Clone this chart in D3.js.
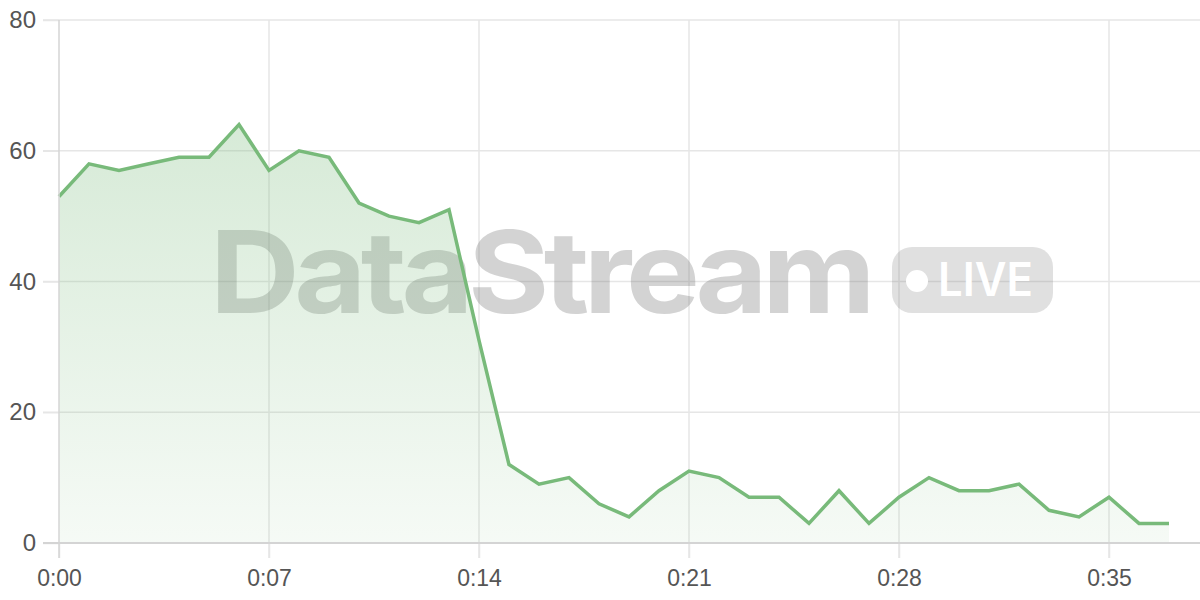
<!DOCTYPE html>
<html>
<head>
<meta charset="utf-8">
<script src="https://cdn.jsdelivr.net/npm/d3@7/dist/d3.min.js"></script>
<style>
  html, body { margin: 0; padding: 0; background: #fff; }
  svg { display: block; font-family: "Inter", "Noto Sans", sans-serif; }
</style>
</head>
<body>
<div id="chart"></div>
<script>
"use strict";

// seconds since start
const SECONDS = d3.range(0, 38);
const VALUES = [53, 58, 57, 58, 59, 59, 64, 57, 60, 59, 52, 50, 49, 51, 31, 12, 9, 10, 6, 4,
                8, 11, 10, 7, 7, 3, 8, 3, 7, 10, 8, 8, 9, 5, 4, 7, 3, 3];
const X_TICKS = [0, 7, 14, 21, 28, 35];
const Y_TICKS = [0, 20, 40, 60, 80];
const WATERMARK = "DataStream";
const BADGE_TEXT = "LIVE";

const WIDTH = 1200;
const HEIGHT = 600;
const MARGIN = {top: 20, right: 0, bottom: 57, left: 59};
const LINE_COLOR = "#78ba7a";

function fmtTime(s) {
    const m = Math.floor(s / 60);
    const sec = s % 60;
    return m + ":" + (sec < 10 ? "0" + sec : sec);
}

const svg = d3.select("#chart").append("svg")
    .attr("width", WIDTH)
    .attr("height", HEIGHT);

const x = d3.scaleLinear()
    .domain([0, 38])
    .range([MARGIN.left, WIDTH - MARGIN.right - 1]);

const y = d3.scaleLinear()
    .domain([0, 80])
    .range([HEIGHT - MARGIN.bottom, MARGIN.top]);

const defs = svg.append("defs");
const grad = defs.append("linearGradient")
    .attr("id", "area-fill")
    .attr("x1", 0).attr("y1", 0)
    .attr("x2", 0).attr("y2", 1);
grad.append("stop").attr("offset", "0%").attr("stop-color", LINE_COLOR).attr("stop-opacity", 0.3);
grad.append("stop").attr("offset", "100%").attr("stop-color", LINE_COLOR).attr("stop-opacity", 0.07);

// grid
svg.append("g")
    .selectAll("line")
    .data(Y_TICKS.filter(function (d) { return d > 0; }))
    .enter()
    .append("line")
    .attr("x1", MARGIN.left - 16)
    .attr("x2", WIDTH)
    .attr("y1", function (d) { return y(d); })
    .attr("y2", function (d) { return y(d); })
    .attr("stroke", "#e6e6e6")
    .attr("stroke-width", 1.5);

svg.append("g")
    .selectAll("line")
    .data(X_TICKS.filter(function (d) { return d > 0; }))
    .enter()
    .append("line")
    .attr("x1", function (d) { return x(d); })
    .attr("x2", function (d) { return x(d); })
    .attr("y1", MARGIN.top)
    .attr("y2", HEIGHT - MARGIN.bottom + 15)
    .attr("stroke", "#e6e6e6")
    .attr("stroke-width", 1.5);

// watermark
const wm = svg.append("g").attr("class", "watermark");
wm.append("text")
    .attr("x", 210)
    .attr("y", 313)
    .attr("textLength", 660)
    .attr("lengthAdjust", "spacingAndGlyphs")
    .style("font-family", "Inter, 'Open Sans', sans-serif")
    .style("font-weight", 700)
    .style("font-size", "114px")
    .style("letter-spacing", "-5px")
    .attr("fill", "rgba(110,110,110,0.3)")
    .text(WATERMARK);
wm.append("rect")
    .attr("x", 892)
    .attr("y", 247)
    .attr("width", 161)
    .attr("height", 66)
    .attr("rx", 20)
    .attr("fill", "rgba(110,110,110,0.21)");
wm.append("circle")
    .attr("cx", 917)
    .attr("cy", 281)
    .attr("r", 11)
    .attr("fill", "#fff");
wm.append("text")
    .attr("x", 938)
    .attr("y", 296)
    .attr("textLength", 95)
    .attr("lengthAdjust", "spacingAndGlyphs")
    .style("font-family", "Inter, 'Open Sans', sans-serif")
    .style("font-weight", 600)
    .style("font-size", "46px")
    .attr("fill", "#fff")
    .text(BADGE_TEXT);

// area + line
const points = SECONDS.map(function (s, i) { return {t: s, v: VALUES[i]}; });

svg.append("path")
    .datum(points)
    .attr("fill", "url(#area-fill)")
    .attr("d", d3.area()
        .x(function (d) { return x(d.t); })
        .y0(y(0))
        .y1(function (d) { return y(d.v); }));

svg.append("path")
    .datum(points)
    .attr("fill", "none")
    .attr("stroke", LINE_COLOR)
    .attr("stroke-width", 3.5)
    .attr("stroke-linejoin", "miter")
    .attr("d", d3.line()
        .x(function (d) { return x(d.t); })
        .y(function (d) { return y(d.v); }));

// axes
const xAxis = svg.append("g")
    .attr("transform", "translate(0," + y(0) + ")")
    .call(d3.axisBottom(x).tickValues(X_TICKS).tickFormat(fmtTime).tickSize(15).tickPadding(12));
xAxis.select(".domain").remove();
xAxis.selectAll(".tick line").attr("stroke", "#e6e6e6").attr("stroke-width", 1.5);
xAxis.selectAll("text").attr("fill", "#555").style("font-size", "23px");

const yAxis = svg.append("g")
    .attr("transform", "translate(" + MARGIN.left + ",0)")
    .call(d3.axisLeft(y).tickValues(Y_TICKS).tickSize(16).tickPadding(7));
yAxis.select(".domain").remove();
yAxis.selectAll(".tick line").attr("stroke", "#e6e6e6").attr("stroke-width", 1.5);
yAxis.selectAll("text").attr("fill", "#555").style("font-size", "24px");

// axis lines
svg.append("line")
    .attr("x1", x(0)).attr("x2", x(0))
    .attr("y1", MARGIN.top).attr("y2", y(0) + 15)
    .attr("stroke", "#d4d4d4").attr("stroke-width", 1.5);
svg.append("line")
    .attr("x1", MARGIN.left - 16).attr("x2", WIDTH)
    .attr("y1", y(0)).attr("y2", y(0))
    .attr("stroke", "#d4d4d4").attr("stroke-width", 2);
</script>
</body>
</html>
